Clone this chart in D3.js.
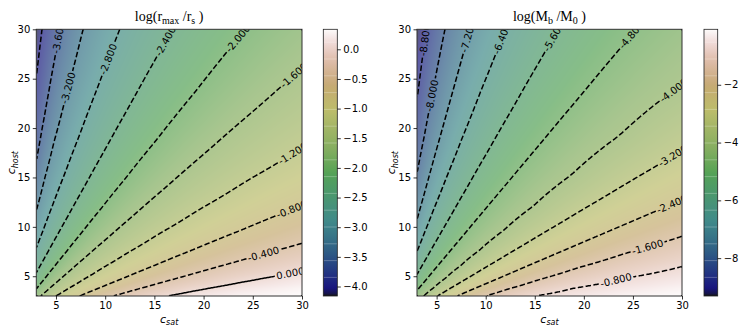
<!DOCTYPE html>
<html><head><meta charset="utf-8">
<script src="https://cdn.jsdelivr.net/npm/d3@7"></script>
<style>
body{margin:0;background:#fff}
svg{display:block}
.tick text{font-family:"DejaVu Sans",sans-serif;font-size:10px;fill:#000}
.tick line{stroke:#000;stroke-width:0.8}
</style>
</head><body>
<svg id="chart" width="748" height="330"></svg>
<script>
// ---------------- DATA ----------------
const cSat  = [3.00, 3.78, 4.75, 5.99, 7.54, 9.49, 11.95, 15.04, 18.93, 23.83, 30.00];
const cHost = [3.00, 3.78, 4.75, 5.99, 7.54, 9.49, 11.95, 15.04, 18.93, 23.83, 30.00];
// rows: cHost (first row = 3), columns: cSat
const logRmaxRs = [
  [-1.76, -1.50, -1.25, -1.02, -0.78, -0.53, -0.30, -0.07,  0.13,  0.27,  0.34],
  [-2.02, -1.76, -1.50, -1.25, -1.02, -0.78, -0.53, -0.30, -0.07,  0.13,  0.27],
  [-2.27, -2.02, -1.76, -1.50, -1.25, -1.02, -0.78, -0.53, -0.30, -0.07,  0.13],
  [-2.52, -2.27, -2.02, -1.76, -1.50, -1.25, -1.02, -0.78, -0.53, -0.30, -0.07],
  [-2.76, -2.52, -2.27, -2.02, -1.76, -1.50, -1.25, -1.02, -0.78, -0.53, -0.30],
  [-2.99, -2.76, -2.52, -2.27, -2.02, -1.76, -1.50, -1.25, -1.02, -0.78, -0.53],
  [-3.23, -2.99, -2.76, -2.52, -2.27, -2.02, -1.76, -1.50, -1.25, -1.02, -0.78],
  [-3.49, -3.23, -2.99, -2.76, -2.52, -2.27, -2.02, -1.76, -1.50, -1.25, -1.02],
  [-3.74, -3.49, -3.23, -2.99, -2.76, -2.52, -2.27, -2.02, -1.76, -1.50, -1.25],
  [-3.95, -3.74, -3.49, -3.23, -2.99, -2.76, -2.52, -2.27, -2.02, -1.76, -1.50],
  [-4.16, -3.95, -3.74, -3.49, -3.23, -2.99, -2.76, -2.52, -2.27, -2.02, -1.76]
];
const logMbM0 = [
  [-4.44, -3.94, -3.36, -2.80, -2.25, -1.70, -1.22, -0.80, -0.49, -0.24, -0.08],
  [-4.93, -4.44, -3.94, -3.36, -2.80, -2.25, -1.70, -1.22, -0.80, -0.49, -0.24],
  [-5.41, -4.93, -4.44, -3.94, -3.36, -2.80, -2.25, -1.70, -1.22, -0.80, -0.49],
  [-5.91, -5.41, -4.93, -4.44, -3.94, -3.36, -2.80, -2.25, -1.70, -1.22, -0.80],
  [-6.41, -5.91, -5.41, -4.93, -4.44, -3.94, -3.36, -2.80, -2.25, -1.70, -1.22],
  [-6.93, -6.41, -5.91, -5.41, -4.93, -4.44, -3.94, -3.36, -2.80, -2.25, -1.70],
  [-7.44, -6.93, -6.41, -5.91, -5.41, -4.93, -4.44, -3.94, -3.36, -2.80, -2.25],
  [-7.95, -7.44, -6.93, -6.41, -5.91, -5.41, -4.93, -4.44, -3.94, -3.36, -2.80],
  [-8.43, -7.95, -7.44, -6.93, -6.41, -5.91, -5.41, -4.93, -4.44, -3.94, -3.36],
  [-8.88, -8.43, -7.95, -7.44, -6.93, -6.41, -5.91, -5.41, -4.93, -4.44, -3.94],
  [-9.31, -8.88, -8.43, -7.95, -7.44, -6.93, -6.41, -5.91, -5.41, -4.93, -4.44]
];
const levelsRmax = [-4.0, -3.6, -3.2, -2.8, -2.4, -2.0, -1.6, -1.2, -0.8, -0.4, 0.0];
const levelsMb   = [-8.8, -8.0, -7.2, -6.4, -5.6, -4.8, -4.0, -3.2, -2.4, -1.6, -0.8];
const rangeRmax = [-4.16, 0.337];
const rangeMb   = [-9.31, -0.08];
const axisTicks = [5, 10, 15, 20, 25, 30];
const cbTicksRmax = [-4.0, -3.5, -3.0, -2.5, -2.0, -1.5, -1.0, -0.5, 0.0];
const cbTicksMb   = [-8, -6, -4, -2];

// ---------------- LAYOUT / STYLE ----------------
const yTop = 29.3, yBot = 296;
const IMG_ALPHA = 0.65, CB_ALPHA = 0.92;
const panels = [
  {x0: 36.3, x1: 302, cb0: 323.3, cb1: 337.3, data: logRmaxRs, levels: levelsRmax, range: rangeRmax,
   cbTicks: cbTicksRmax, cbFmt: d3.format(".1f"),
   title: [["log(r",0],["max",1],[" /r",0],["s",1],[" )",0]], ylabX: 15,
   labelDist: {"-4":null,"-3.6":9,"-3.2":61,"-2.8":32,"-2.4":14,"-2":12,"-1.6":11,"-1.2":11,"-0.8":11,"-0.4":40,"0":12}},
  {x0: 417, x1: 682, cb0: 704, cb1: 717.7, data: logMbM0, levels: levelsMb, range: rangeMb,
   cbTicks: cbTicksMb, cbFmt: d3.format("d"),
   title: [["log(M",0],["b",1],[" /M",0],["0",1],[" )",0]], ylabX: 395,
   labelDist: {"-8.8":11,"-8":68,"-7.2":8,"-6.4":10,"-5.6":9,"-4.8":8,"-4":11,"-3.2":11,"-2.4":11,"-1.6":36,"-0.8":68}}
];

// gist_earth colormap (matplotlib segment data)
const GE = {
 r: [[0,0],[0.2824,0.1882],[0.4588,0.2714],[0.5490,0.4719],[0.6980,0.7176],[0.7882,0.7553],[1,0.9922]],
 g: [[0,0],[0.0275,0],[0.1098,0.1893],[0.1647,0.3035],[0.2078,0.3841],[0.2824,0.5020],[0.5216,0.6397],[0.6980,0.7171],[0.7882,0.6392],[0.7922,0.6413],[0.8000,0.6447],[0.8078,0.6481],[0.8157,0.6549],[0.8667,0.6991],[0.8745,0.7103],[0.8824,0.7216],[0.8902,0.7323],[0.8980,0.7430],[0.9412,0.8275],[0.9569,0.8635],[0.9647,0.8816],[0.9961,0.9733],[1,0.9843]],
 b: [[0,0],[0.0039,0.1684],[0.0078,0.2212],[0.0275,0.4329],[0.0314,0.4549],[0.2824,0.5004],[0.4667,0.2748],[0.5451,0.3205],[0.7843,0.3961],[0.8941,0.6651],[1,0.9843]]
};
function seg(arr, t){
  for (let k=1;k<arr.length;k++){ if (t<=arr[k][0]){ const a=arr[k-1], b=arr[k]; const u=(t-a[0])/((b[0]-a[0])||1); return a[1]+u*(b[1]-a[1]); } }
  return arr[arr.length-1][1];
}
function cmap(t){ t=Math.max(0,Math.min(1,t)); return [seg(GE.r,t)*255, seg(GE.g,t)*255, seg(GE.b,t)*255]; }
function blend(c,a){ return c.map(x=>Math.round(255*(1-a)+x*a)); }

const svg = d3.select("#chart");
const defs = svg.append("defs");

function isolines(mp, NX, NY){
  const eps=1e-6;
  const side = p => ({l:p[0]<=eps, r:p[0]>=NX-eps, t:p[1]<=eps, b:p[1]>=NY-eps});
  const border = (p,q) => { const a=side(p), b=side(q); return (a.l&&b.l)||(a.r&&b.r)||(a.t&&b.t)||(a.b&&b.b); };
  const out=[];
  for (const poly of mp.coordinates) for (const ring of poly){
    const pts = ring.slice(0,-1), n=pts.length;
    const be = k => border(pts[k], pts[(k+1)%n]);
    let start=-1;
    for (let k=0;k<n;k++) if (be(k)){ start=k; break; }
    if (start<0){ out.push(ring.slice()); continue; }
    let cur=[];
    for (let c=1;c<=n;c++){
      const k=(start+c)%n;
      if (be(k)){ if (cur.length){ cur.push(pts[k]); if (cur.length>1) out.push(cur); cur=[]; } }
      else cur.push(pts[k]);
    }
    if (cur.length>1) out.push(cur);
  }
  return out;
}
function cumLen(p){ const L=[0]; for(let k=1;k<p.length;k++) L.push(L[k-1]+Math.hypot(p[k][0]-p[k-1][0],p[k][1]-p[k-1][1])); return L; }
function pointAt(p,L,s){
  s=Math.max(0,Math.min(L[L.length-1],s));
  let k=d3.bisectLeft(L,s); k=Math.max(1,Math.min(p.length-1,k));
  const t=(s-L[k-1])/((L[k]-L[k-1])||1);
  return [p[k-1][0]+t*(p[k][0]-p[k-1][0]), p[k-1][1]+t*(p[k][1]-p[k-1][1])];
}
function slicePath(p,L,a,b){
  const o=[pointAt(p,L,a)];
  for (let k=0;k<p.length;k++) if (L[k]>a && L[k]<b) o.push(p[k]);
  o.push(pointAt(p,L,b)); return o;
}

panels.forEach((P,pi)=>{
  const xs = d3.scaleLinear().domain([3,30]).range([P.x0,P.x1]);
  const ys = d3.scaleLinear().domain([3,30]).range([yBot,yTop]);
  const NX = Math.round(P.x1-P.x0), NY = Math.round(yBot-yTop);
  const jS = d3.scaleLinear().domain(cSat.map(Math.log)).range(d3.range(cSat.length)).clamp(true);
  const iH = d3.scaleLinear().domain(cHost.map(Math.log)).range(d3.range(cHost.length)).clamp(true);
  const G = P.data;
  const vals = new Float64Array(NX*NY);
  for (let r=0;r<NY;r++){
    const h = ys.invert(yTop+(r+0.5)*(yBot-yTop)/NY);
    const fi=iH(Math.log(h)); const i0=Math.min(Math.floor(fi),cHost.length-2); const ti=fi-i0;
    for (let c=0;c<NX;c++){
      const s = xs.invert(P.x0+(c+0.5)*(P.x1-P.x0)/NX);
      const fj=jS(Math.log(s)); const j0=Math.min(Math.floor(fj),cSat.length-2); const tj=fj-j0;
      vals[r*NX+c] = (1-ti)*((1-tj)*G[i0][j0]+tj*G[i0][j0+1]) + ti*((1-tj)*G[i0+1][j0]+tj*G[i0+1][j0+1]);
    }
  }
  const norm = d3.scaleLinear().domain(P.range).clamp(true);
  const canvas=document.createElement("canvas"); canvas.width=NX; canvas.height=NY;
  const ctx=canvas.getContext("2d"); const img=ctx.createImageData(NX,NY);
  for (let k=0;k<NX*NY;k++){ const c=blend(cmap(norm(vals[k])),IMG_ALPHA); img.data[4*k]=c[0]; img.data[4*k+1]=c[1]; img.data[4*k+2]=c[2]; img.data[4*k+3]=255; }
  ctx.putImageData(img,0,0);
  svg.append("image").attr("href",canvas.toDataURL()).attr("x",P.x0).attr("y",yTop)
    .attr("width",P.x1-P.x0).attr("height",yBot-yTop).attr("preserveAspectRatio","none");

  defs.append("clipPath").attr("id","clip"+pi).append("rect")
    .attr("x",P.x0).attr("y",yTop).attr("width",P.x1-P.x0).attr("height",yBot-yTop);
  const gC = svg.append("g").attr("clip-path",`url(#clip${pi})`);
  const lineGen = d3.line();
  P.levels.forEach(lev=>{
    const mp = d3.contours().size([NX,NY]).thresholds([lev])(vals)[0];
    let lines = isolines(mp,NX,NY).map(l=>l.map(p=>[P.x0+p[0]*(P.x1-P.x0)/NX, yTop+p[1]*(yBot-yTop)/NY]));
    const dash = lev<0 ? "5.5,2.4" : null;
    const dist = P.labelDist[String(lev)];
    let longest = d3.greatestIndex(lines, l=>cumLen(l)[l.length-1]);
    lines.forEach((pts,li)=>{
      const endScore = p => (Math.abs(p[1]-yTop)<1.5 || Math.abs(p[0]-P.x1)<1.5) ? 1 : 0;
      if (endScore(pts[pts.length-1])>endScore(pts[0])) pts=pts.slice().reverse();
      const L=cumLen(pts), tot=L[L.length-1];
      let pieces=[pts];
      if (li===longest && dist!=null && dist!==undefined){
        const c=pointAt(pts,L,dist), a=pointAt(pts,L,dist-4), b=pointAt(pts,L,dist+4);
        let ang=Math.atan2(b[1]-a[1],b[0]-a[0])*180/Math.PI;
        if (ang>90) ang-=180; if (ang<-90) ang+=180;
        const t=gC.append("text").attr("transform",`translate(${c[0]},${c[1]}) rotate(${ang})`)
          .attr("text-anchor","middle").attr("dominant-baseline","central")
          .style("font-family","DejaVu Sans, sans-serif").style("font-size","10px").attr("fill","#000")
          .text(d3.format(".3f")(lev).replace("−","-"));
        const w=t.node().getComputedTextLength();
        const g0=dist-w/2-1.5, g1=dist+w/2+1.5;
        pieces=[];
        if (g0>0) pieces.push(slicePath(pts,L,0,g0));
        if (g1<tot) pieces.push(slicePath(pts,L,g1,tot));
      }
      pieces.forEach(pc=>{
        gC.append("path").attr("d",lineGen(pc)).attr("fill","none").attr("stroke","#000")
          .attr("stroke-width",1.5).attr("stroke-dasharray",dash);
      });
    });
  });

  // frame
  svg.append("rect").attr("x",P.x0).attr("y",yTop).attr("width",P.x1-P.x0).attr("height",yBot-yTop)
    .attr("fill","none").attr("stroke","#333").attr("stroke-width",1);
  // axes
  const ax = svg.append("g").attr("transform",`translate(0,${yBot})`)
    .call(d3.axisBottom(xs).tickValues(axisTicks).tickSize(3.5).tickSizeOuter(0).tickPadding(2.5));
  ax.select(".domain").remove();
  const ay = svg.append("g").attr("transform",`translate(${P.x0},0)`)
    .call(d3.axisLeft(ys).tickValues(axisTicks).tickSize(3.5).tickSizeOuter(0).tickPadding(2.5));
  ay.select(".domain").remove();

  // titles
  const tt = svg.append("text").attr("x",(P.x0+P.x1)/2).attr("y",21).attr("text-anchor","middle")
    .style("font-family","Liberation Serif, serif").style("font-size","14px");
  P.title.forEach(([s,sub])=>{
    const sp=tt.append("tspan").text(s);
    if (sub) sp.style("font-size","10px").attr("dy",3); 
    else sp.attr("dy", null);
  });
  // fix baseline after subscripts
  tt.selectAll("tspan").each(function(d,i,n){
    const prevSub = i>0 && P.title[i-1][1], curSub = P.title[i][1];
    if (curSub) d3.select(this).attr("dy",3); else if (prevSub) d3.select(this).attr("dy",-3); else d3.select(this).attr("dy",0);
  });

  // x label
  const xl = svg.append("text").attr("x",(P.x0+P.x1)/2).attr("y",322.5).attr("text-anchor","middle")
    .style("font-family","DejaVu Sans, sans-serif").style("font-style","italic");
  xl.append("tspan").text("c").style("font-size","11px");
  xl.append("tspan").text("sat").style("font-size","8px").attr("dy",2.5);
  // y label
  const yl = svg.append("text").attr("transform",`translate(${P.ylabX},${(yTop+yBot)/2}) rotate(-90)`)
    .attr("text-anchor","middle").style("font-family","DejaVu Sans, sans-serif").style("font-style","italic");
  yl.append("tspan").text("c").style("font-size","11px");
  yl.append("tspan").text("host").style("font-size","8px").attr("dy",2.5);

  // colorbar
  const cbS = d3.scaleLinear().domain(P.range).range([yBot,yTop]);
  const gid="cbg"+pi;
  const grad=defs.append("linearGradient").attr("id",gid).attr("x1",0).attr("y1",1).attr("x2",0).attr("y2",0);
  d3.range(0,1.00001,1/100).forEach(t=>{
    const c=cmap(t);
    grad.append("stop").attr("offset",t).attr("stop-color",`rgb(${c.map(Math.round).join(",")})`).attr("stop-opacity",CB_ALPHA);
  });
  svg.append("rect").attr("x",P.cb0).attr("y",yTop).attr("width",P.cb1-P.cb0).attr("height",yBot-yTop)
    .attr("fill",`url(#${gid})`);
  const bandY = d3.range(15).map(k=>yTop+12.9+k*16.8);
  svg.append("g").selectAll("line").data(bandY).join("line")
    .attr("x1",P.cb0).attr("x2",P.cb1).attr("y1",d=>d).attr("y2",d=>d)
    .attr("stroke","#fff").attr("stroke-opacity",0.25).attr("stroke-width",1);
  svg.append("rect").attr("x",P.cb0).attr("y",yTop).attr("width",P.cb1-P.cb0).attr("height",yBot-yTop)
    .attr("fill","none").attr("stroke","#222").attr("stroke-width",0.8);
  const ac = svg.append("g").attr("transform",`translate(${P.cb1},0)`)
    .call(d3.axisRight(cbS).tickValues(P.cbTicks).tickFormat(P.cbFmt).tickSize(3.5).tickSizeOuter(0).tickPadding(2.5));
  ac.select(".domain").remove();
});
</script>
</body></html>
